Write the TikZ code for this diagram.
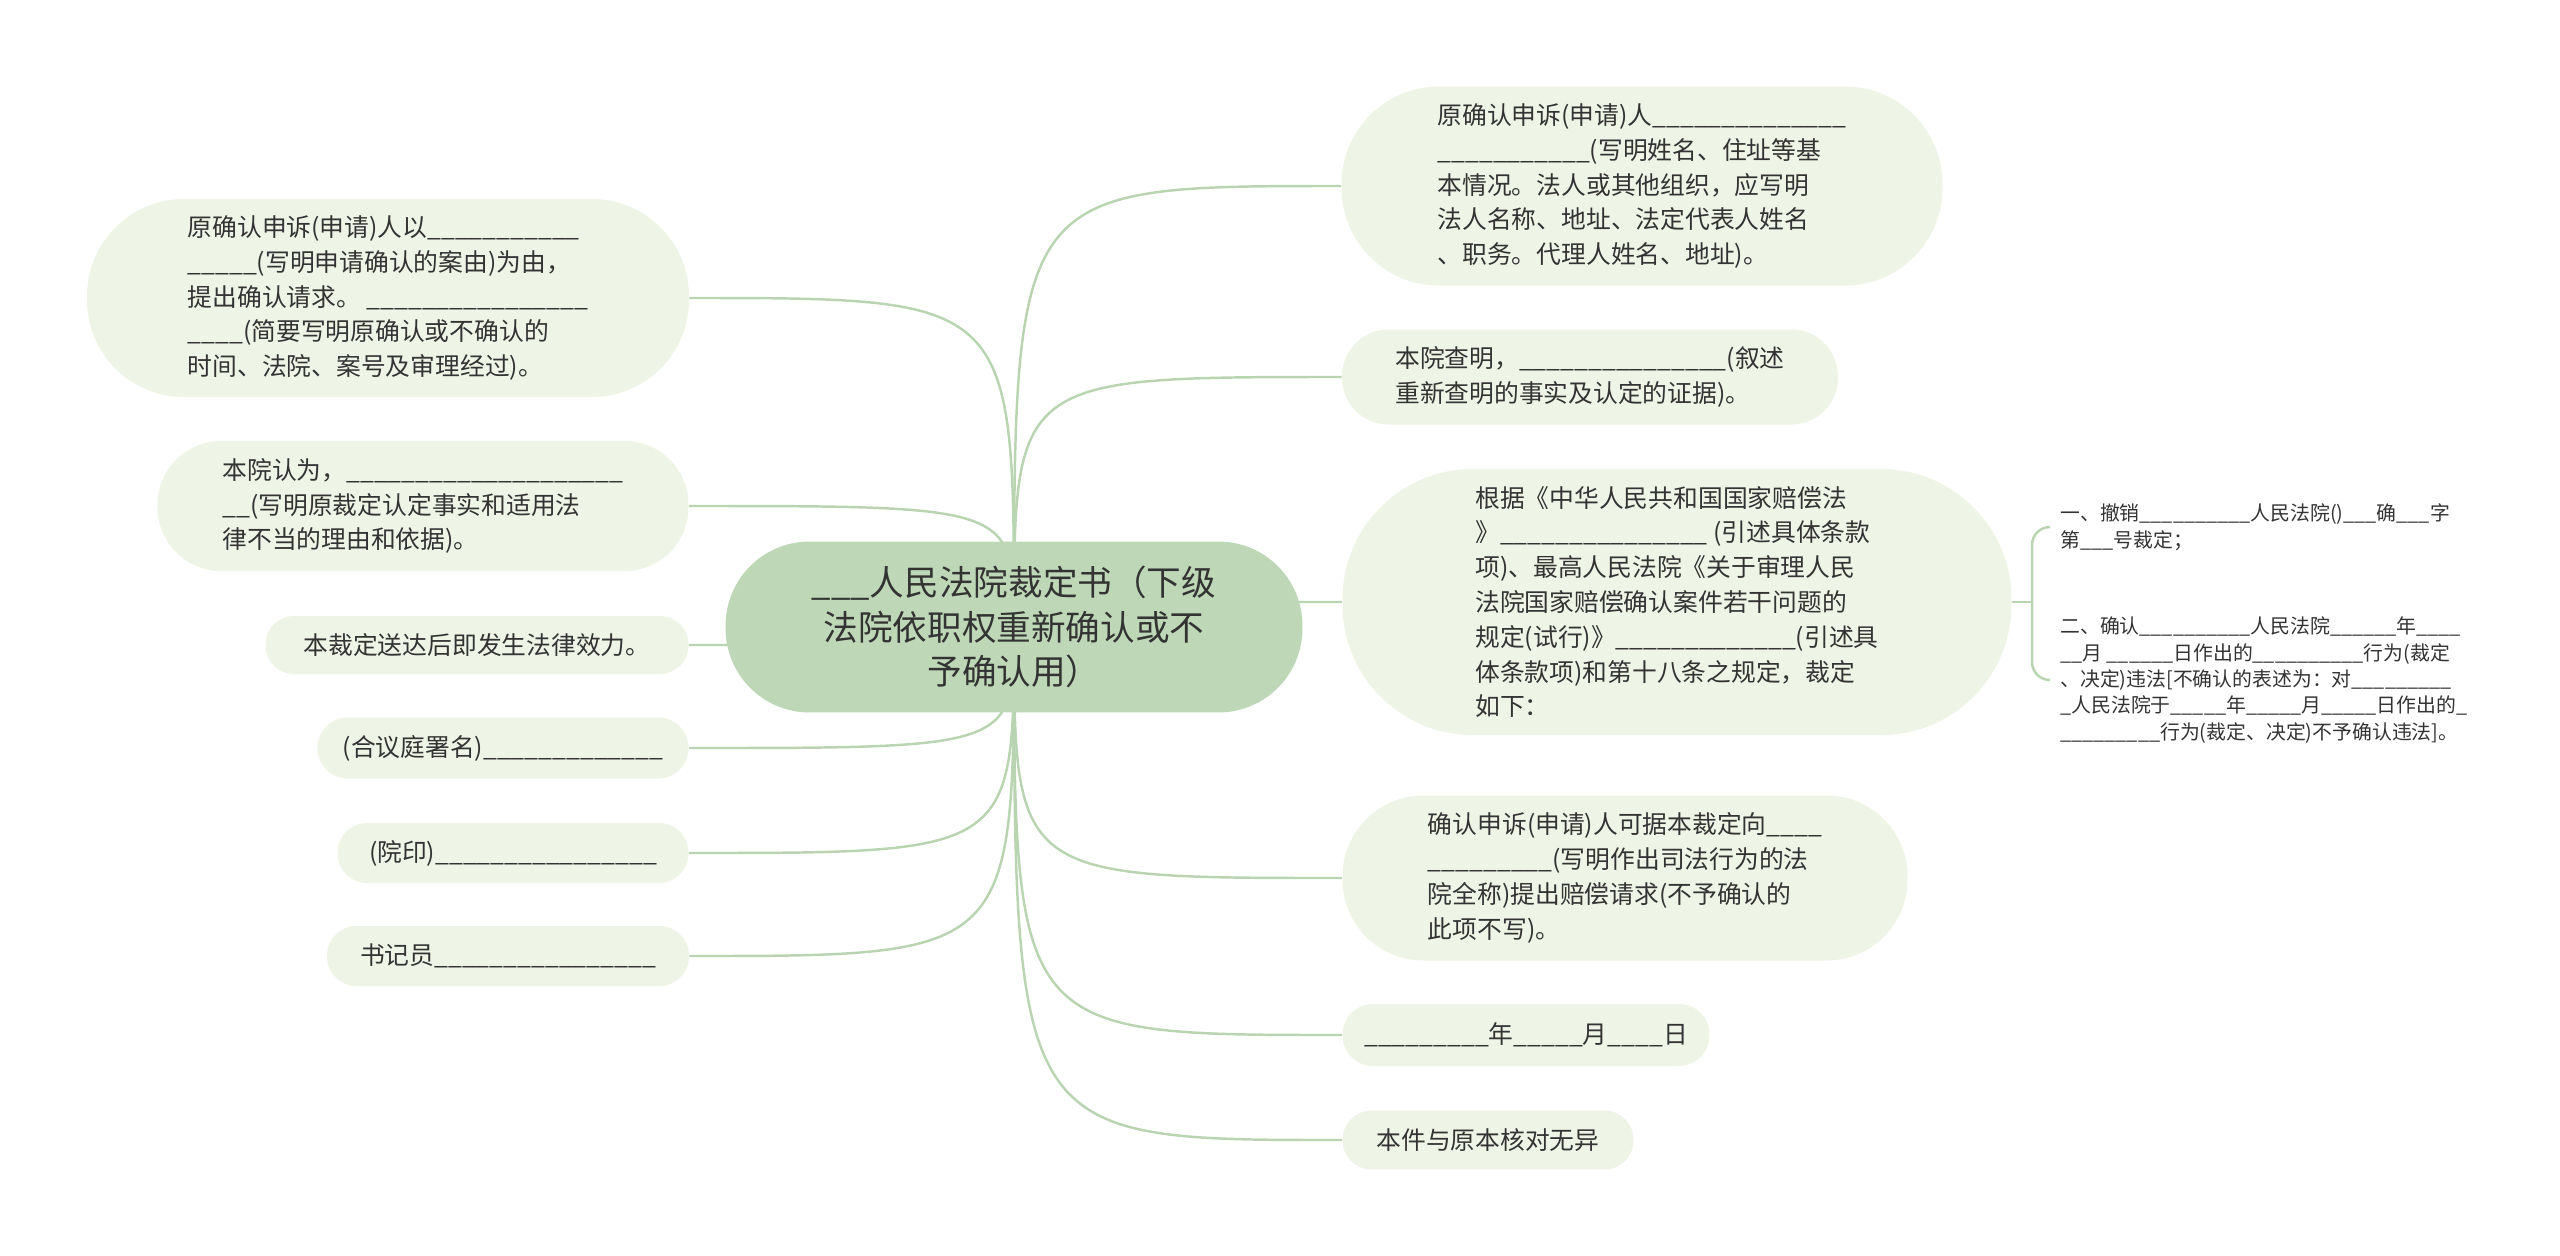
\documentclass[tikz,border=0pt]{standalone}
\usepackage{fontspec}
\setmainfont{Noto Sans CJK SC}
\usepackage{xcolor}
\usepackage{tikz}
\usetikzlibrary{backgrounds}
\definecolor{leaf}{HTML}{EFF5E6}
\definecolor{rootfill}{HTML}{BED8B7}
\definecolor{branch}{HTML}{B8D4B1}
\definecolor{ink}{HTML}{333333}

\begin{document}
\catcode`\_=12
\begin{tikzpicture}[x=0.02cm, y=-0.02cm]
\tikzset{tp/.style 2 args={fill=leaf, text=ink, align=left, inner sep=0pt, font=\fontsize{14.1}{19.8}\selectfont, minimum width=#1*0.02cm, minimum height=#2*0.02cm, rounded corners=#2*0.0098cm},
  rt/.style={fill=rootfill, text=ink, align=center, inner sep=0pt, font=\fontsize{19.7}{25.5}\selectfont, minimum width=11.54cm, minimum height=3.42cm, rounded corners=1.68cm},
  sb/.style={anchor=west, text=ink, align=left, inner sep=0.24cm, font=\fontsize{11.3}{15}\selectfont},
  link/.style={draw=branch, line width=1.4pt}};
\useasboundingbox (0,0) rectangle (2560,1255);
\node [rt] (root) at (1014,627) {___人民法院裁定书（下级\\法院依职权重新确认或不\\予确认用）};
% left side
\node [tp={602}{198}] (L1) at (388,298) {原确认申诉(申请)人以___________\\_____(写明申请确认的案由)为由，\\提出确认请求。 ________________\\____(简要写明原确认或不确认的\\时间、法院、案号及审理经过)。};
\node [tp={531}{130}] (L2) at (423,506) {本院认为，____________________\\__(写明原裁定认定事实和适用法\\律不当的理由和依据)。};
\node [tp={423}{58}] (L3) at (477,645) {本裁定送达后即发生法律效力。};
\node [tp={371}{61}] (L4) at (503,748) {(合议庭署名)_____________};
\node [tp={351}{60}] (L5) at (513,853) {(院印)________________};
\node [tp={362}{60}] (L6) at (508,956) {书记员________________};
% right side
\node [tp={601}{199}] (R1) at (1642,186) {原确认申诉(申请)人______________\\___________(写明姓名、住址等基\\本情况。法人或其他组织，应写明\\法人名称、地址、法定代表人姓名\\、职务。代理人姓名、地址)。};
\node [tp={496}{95}] (R2) at (1590,377) {本院查明，_______________(叙述\\重新查明的事实及认定的证据)。};
\node [tp={669}{266}] (R3) at (1677,602) {根据《中华人民共和国国家赔偿法\\》_______________ (引述具体条款\\项)、最高人民法院《关于审理人民\\法院国家赔偿确认案件若干问题的\\规定(试行)》_____________(引述具\\体条款项)和第十八条之规定，裁定\\如下：};
\node [tp={565}{165}] (R4) at (1625,878) {确认申诉(申请)人可据本裁定向____\\_________(写明作出司法行为的法\\院全称)提出赔偿请求(不予确认的\\此项不写)。};
\node [tp={367}{62}] (R5) at (1526,1035) {_________年_____月____日};
\node [tp={291}{59}] (R6) at (1488,1140) {本件与原本核对无异};
% items under R3
\node [sb] (S1) at (2048,527) {一、撤销__________人民法院()___确___字\\第___号裁定；};
\node [sb] (S2) at (2048,680) {二、确认__________人民法院______年____\\__月 ______日作出的__________行为(裁定\\、决定)违法[不确认的表述为：对_________\\_人民法院于_____年_____月_____日作出的_\\_________行为(裁定、决定)不予确认违法]。};
\coordinate (brk) at (2032,602);
\begin{scope}[on background layer]
\foreach \n in {L1,L2,L3,L4,L5,L6}
  \draw [link] (root.center) .. controls (root.center |- \n.east) .. (\n.east);
\foreach \n in {R1,R2,R3,R4,R5,R6}
  \draw [link] (root.center) .. controls (root.center |- \n.west) .. (\n.west);
\end{scope}
\draw [link] (R3.east) -- (brk);
\draw [link, rounded corners=0.36cm] (S1.west) -| (brk) |- (S2.west);
\end{tikzpicture}
\end{document}
